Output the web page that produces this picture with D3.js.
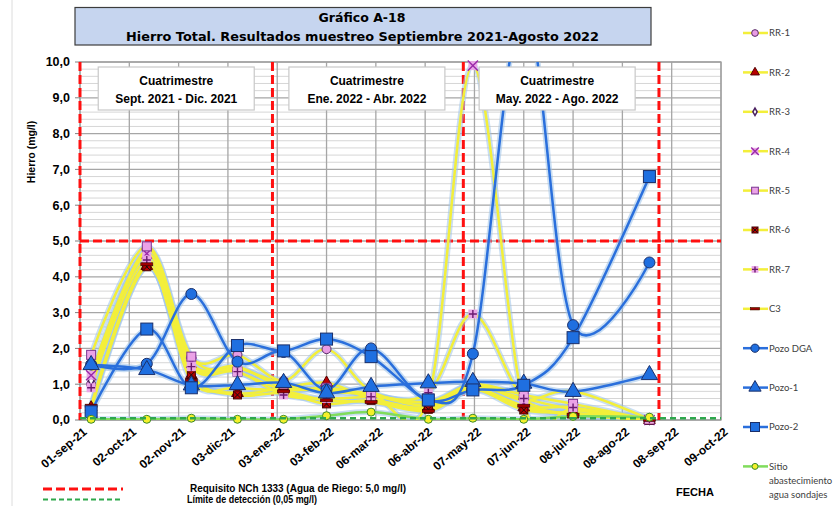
<!DOCTYPE html>
<html>
<head>
<meta charset="utf-8">
<script src="https://cdn.jsdelivr.net/npm/d3@7"></script>
<style>
  body { margin: 0; background: #fff; }
  svg { display: block; }
  text { font-family: "Liberation Sans", Arial, sans-serif; }
</style>
</head>
<body>
<svg id="chart" width="835" height="506"></svg>
<script>
// sampling dates (one campaign per month)
const sampleDates = ['2021-09-08', '2021-10-13', '2021-11-10', '2021-12-09', '2022-01-07', '2022-02-03',
  '2022-03-03', '2022-04-08', '2022-05-06', '2022-06-07', '2022-07-08', '2022-08-25'];

// hierro total (mg/l) per station
const rr1 = [1.0, 4.75, 1.75, 1.82, 1.1, 1.98, 0.8, 0.5, 0.95, 0.6, 0.3, 0.02];
const rr2 = [0.35, 4.3, 1.25, 0.75, 0.9, 1.04, 0.6, 0.35, 0.9, 0.35, 0.15, 0.0];
const rr3 = [1.1, 4.6, 1.55, 1.45, 1.0, 0.8, 0.7, 0.4, 1.0, 0.55, 0.8, 0.02];
const rr4 = [1.25, 4.65, 1.6, 1.5, 0.9, 0.85, 0.75, 0.6, 9.9, 0.45, 0.3, 0.0];
const rr5 = [1.82, 4.85, 1.77, 1.35, 0.85, 0.9, 0.7, 0.5, 1.0, 0.7, 0.45, 0.0];
const rr6 = [0.3, 4.28, 1.26, 0.7, 0.75, 0.45, 0.55, 0.3, 0.85, 0.28, 0.2, 0.0];
const rr7 = [0.9, 4.47, 1.49, 1.35, 0.7, 0.6, 0.65, 0.76, 2.96, 0.6, 0.35, 0.02];
const c3 = [0.4, 4.35, 1.1, 0.9, 0.8, 0.55, 0.5, 0.25, 0.85, 0.4, 0.15, 0.0];
const pozoDga = [1.55, 1.57, 3.52, 1.63, 1.9, 0.85, 2.0, 0.55, 1.85, 11.6, 2.65, 4.4];
const pozo1 = [1.54, 1.4, 0.97, 0.98, 1.04, 0.75, 0.93, 1.03, 1.07, 1.02, 0.79, 1.26];
const pozo2 = [0.23, 2.54, 0.9, 2.08, 1.93, 2.26, 1.77, 0.56, 0.84, 0.97, 2.3, 6.8];
const sitio = [0.02, 0.02, 0.05, 0.02, 0.02, 0.12, 0.22, 0.02, 0.05, 0.02, 0.1, 0.08];

// axis
const xTickDates = ['2021-09-01', '2021-10-02', '2021-11-02', '2021-12-03', '2022-01-03', '2022-02-03', '2022-03-06',
  '2022-04-06', '2022-05-07', '2022-06-07', '2022-07-08', '2022-08-08', '2022-09-08', '2022-10-09'];
const xTickLabels = ['01-sep-21', '02-oct-21', '02-nov-21', '03-dic-21', '03-ene-22', '03-feb-22', '06-mar-22',
  '06-abr-22', '07-may-22', '07-jun-22', '08-jul-22', '08-ago-22', '08-sep-22', '09-oct-22'];
const yTicks = [0, 1, 2, 3, 4, 5, 6, 7, 8, 9, 10];

// cuatrimestres
const periodBreaks = ['2021-09-01', '2021-12-31', '2022-04-30', '2022-08-31'];
const periodLabels = ['Sept. 2021 - Dic. 2021', 'Ene. 2022 - Abr. 2022', 'May. 2022 - Ago. 2022'];

const requisito = 5.0;
const limiteDeteccion = 0.05;

const YELLOW = '#f3ef3a';
const BLUE = '#2a6fdc';
const GREEN = '#80dc5c';

const series = [
  { name: 'RR-1', values: rr1, kind: 'rr1', color: YELLOW },
  { name: 'RR-2', values: rr2, kind: 'rr2', color: YELLOW },
  { name: 'RR-3', values: rr3, kind: 'rr3', color: YELLOW },
  { name: 'RR-4', values: rr4, kind: 'rr4', color: YELLOW },
  { name: 'RR-5', values: rr5, kind: 'rr5', color: YELLOW },
  { name: 'RR-6', values: rr6, kind: 'rr6', color: YELLOW },
  { name: 'RR-7', values: rr7, kind: 'rr7', color: YELLOW },
  { name: 'C3', values: c3, kind: 'c3', color: YELLOW },
  { name: 'Pozo DGA', values: pozoDga, kind: 'dga', color: BLUE },
  { name: 'Pozo-1', values: pozo1, kind: 'p1', color: BLUE },
  { name: 'Pozo-2', values: pozo2, kind: 'p2', color: BLUE },
  { name: ['Sitio', 'abastecimiento', 'agua sondajes'], values: sitio, kind: 'sitio', color: GREEN },
];

const plot = { left: 80, right: 721, top: 62, bottom: 420 };
const parseDate = d3.utcParse('%Y-%m-%d');
const svg = d3.select('#chart');

const x = d3.scaleUtc()
  .domain([parseDate(xTickDates[0]), parseDate(xTickDates[xTickDates.length - 1])])
  .range([plot.left, plot.right]);
const y = d3.scaleLinear().domain([0, 10]).range([plot.bottom, plot.top]);
const fmt = (v) => d3.format('.1f')(v).replace('.', ',');

svg.append('defs').append('clipPath').attr('id', 'plot-clip')
  .append('rect')
  .attr('x', plot.left).attr('y', plot.top)
  .attr('width', plot.right - plot.left).attr('height', plot.bottom - plot.top);

// faint outer frame line on the left
svg.append('line').attr('x1', 12).attr('x2', 12).attr('y1', 0).attr('y2', 506)
  .attr('stroke', '#dcdcdc');

// grid
const grid = svg.append('g');
grid.selectAll('line.minor')
  .data(y.ticks(50).filter((d) => Math.abs(d - Math.round(d)) > 0.01))
  .join('line')
  .attr('x1', plot.left).attr('x2', plot.right)
  .attr('y1', (d) => y(d)).attr('y2', (d) => y(d))
  .attr('stroke', '#d6d6d6').attr('stroke-width', 1);
grid.selectAll('line.major')
  .data(yTicks)
  .join('line')
  .attr('x1', plot.left).attr('x2', plot.right)
  .attr('y1', (d) => y(d)).attr('y2', (d) => y(d))
  .attr('stroke', '#a6a6a6').attr('stroke-width', 1.3);
grid.selectAll('line.vert')
  .data(xTickDates.map(parseDate))
  .join('line')
  .attr('x1', (d) => x(d)).attr('x2', (d) => x(d))
  .attr('y1', plot.top).attr('y2', plot.bottom)
  .attr('stroke', '#a6a6a6').attr('stroke-width', 1.3);
grid.append('rect')
  .attr('x', plot.left).attr('y', plot.top)
  .attr('width', plot.right - plot.left).attr('height', plot.bottom - plot.top)
  .attr('fill', 'none').attr('stroke', '#a0a0a0').attr('stroke-width', 1.3);

// y axis labels and ticks
const yAxis = svg.append('g');
yAxis.selectAll('line')
  .data(yTicks)
  .join('line')
  .attr('x1', plot.left - 5).attr('x2', plot.left)
  .attr('y1', (d) => y(d)).attr('y2', (d) => y(d))
  .attr('stroke', '#808080');
yAxis.selectAll('text')
  .data(yTicks)
  .join('text')
  .attr('x', 70).attr('y', (d) => y(d))
  .attr('dy', '0.35em')
  .attr('text-anchor', 'end')
  .style('font-size', '12.5px').style('font-weight', 'bold')
  .text(fmt);
svg.append('text')
  .attr('transform', 'translate(35,152) rotate(-90)')
  .attr('text-anchor', 'middle')
  .style('font-size', '10.5px').style('font-weight', 'bold')
  .text('Hierro  (mg/l)');

// x axis labels
svg.append('g').selectAll('text')
  .data(xTickDates)
  .join('text')
  .attr('transform', (d) => `translate(${x(parseDate(d)) + 5},${plot.bottom + 10}) rotate(-40)`)
  .attr('text-anchor', 'end')
  .attr('dy', '0.35em')
  .style('font-size', '12px').style('font-weight', 'bold')
  .text((d, i) => xTickLabels[i]);

// reference lines
svg.append('g').selectAll('line')
  .data(periodBreaks.map(parseDate))
  .join('line')
  .attr('x1', (d) => x(d)).attr('x2', (d) => x(d))
  .attr('y1', plot.top).attr('y2', plot.bottom)
  .attr('stroke', '#ff1010').attr('stroke-width', 3).attr('stroke-dasharray', '9,4');
svg.append('line')
  .attr('x1', plot.left).attr('x2', plot.right)
  .attr('y1', y(requisito)).attr('y2', y(requisito))
  .attr('stroke', '#ff1010').attr('stroke-width', 3).attr('stroke-dasharray', '9,4');

// markers
function drawMarker(g, kind, k) {
  const sym = (type, area) => d3.symbol(type, area * k * k)();
  const sq = (size, fill, stroke) => g.append('rect')
    .attr('x', -size * k / 2).attr('y', -size * k / 2)
    .attr('width', size * k).attr('height', size * k)
    .attr('fill', fill).attr('stroke', stroke).attr('stroke-width', 1);
  if (kind === 'rr1') {
    g.append('circle').attr('r', 4.5 * k).attr('fill', '#e89ce4').attr('stroke', '#5a2a66');
  } else if (kind === 'rr2') {
    g.append('path').attr('d', sym(d3.symbolTriangle, 60)).attr('fill', '#b80000').attr('stroke', '#500');
  } else if (kind === 'rr3') {
    g.append('path').attr('d', sym(d3.symbolDiamond, 28)).attr('fill', '#fff')
      .attr('stroke', '#4a2060').attr('stroke-width', 1.5);
  } else if (kind === 'rr4') {
    sq(9, '#eaa8e8', 'none');
    g.append('path').attr('d', sym(d3.symbolX, 70)).attr('fill', 'none')
      .attr('stroke', '#9a2aa8').attr('stroke-width', 1.4);
  } else if (kind === 'rr5') {
    sq(9, '#eba2e7', '#7a3590');
  } else if (kind === 'rr6') {
    sq(8, '#b80000', '#400');
    g.append('path').attr('d', sym(d3.symbolX, 30)).attr('fill', 'none').attr('stroke', '#111');
  } else if (kind === 'rr7') {
    sq(9, '#eaa6e6', 'none');
    g.append('path').attr('d', `M${-4 * k},0H${4 * k}M0,${-4 * k}V${4 * k}`)
      .attr('stroke', '#6a1a70').attr('stroke-width', 1.4);
  } else if (kind === 'c3') {
    g.append('rect').attr('x', -6 * k).attr('y', -1.5 * k).attr('width', 12 * k).attr('height', 3 * k)
      .attr('fill', '#a00000').attr('stroke', '#300').attr('stroke-width', 0.6);
  } else if (kind === 'dga') {
    g.append('circle').attr('r', 5.5 * k).attr('fill', '#1f6fe0').attr('stroke', '#1a2f6a');
  } else if (kind === 'p1') {
    g.append('path').attr('d', sym(d3.symbolTriangle, 115)).attr('fill', '#1f6fe0').attr('stroke', '#1a2f6a');
  } else if (kind === 'p2') {
    sq(12, '#1f6fe0', '#1a2f6a');
  } else if (kind === 'sitio') {
    g.append('circle').attr('r', 4 * k).attr('fill', '#f4f02a').attr('stroke', '#3a8a2a');
  }
}

// series
const line = d3.line()
  .x((d) => x(d.date))
  .y((d) => y(d.value))
  .curve(d3.curveCatmullRom.alpha(0));

const seriesData = series.map((s) => ({
  ...s,
  points: s.values.map((v, i) => ({ date: parseDate(sampleDates[i]), value: v })),
}));

const linesG = svg.append('g').attr('clip-path', 'url(#plot-clip)');
linesG.selectAll('path.glow')
  .data(seriesData)
  .join('path')
  .attr('d', (d) => line(d.points))
  .attr('fill', 'none')
  .attr('stroke', '#9cc2ea').attr('stroke-opacity', 0.55).attr('stroke-width', 6);

seriesData.forEach((s) => {
  linesG.append('path')
    .attr('d', line(s.points))
    .attr('fill', 'none')
    .attr('stroke', s.color).attr('stroke-width', 2.5);
  svg.append('g').selectAll('g')
    .data(s.points.filter((p) => p.value <= 10))
    .join('g')
    .attr('transform', (p) => `translate(${x(p.date)},${y(p.value)})`)
    .each(function () { drawMarker(d3.select(this), s.kind, 1); });
});

// detection limit
svg.append('line')
  .attr('x1', plot.left).attr('x2', plot.right)
  .attr('y1', y(limiteDeteccion)).attr('y2', y(limiteDeteccion))
  .attr('stroke', '#2ea84c').attr('stroke-width', 2.5).attr('stroke-dasharray', '6,4');

// cuatrimestre boxes (sit above the series lines)
const periodMid = d3.pairs(periodBreaks.map(parseDate)).map(([a, b]) => (x(a) + x(b)) / 2);
const boxShift = [0, -1, -4];
const boxes = svg.append('g').selectAll('g')
  .data(periodLabels)
  .join('g')
  .attr('transform', (d, i) => `translate(${periodMid[i] + boxShift[i]},0)`);
boxes.append('rect')
  .attr('x', -78).attr('y', 67).attr('width', 156).attr('height', 43)
  .attr('fill', '#fff').attr('stroke', '#c8c8c8').attr('stroke-width', 1.2);
boxes.append('text')
  .attr('y', 85).attr('text-anchor', 'middle')
  .style('font-size', '12px').style('font-weight', 'bold')
  .text('Cuatrimestre');
boxes.append('text')
  .attr('y', 103).attr('text-anchor', 'middle')
  .style('font-size', '12px').style('font-weight', 'bold')
  .text((d) => d);

// title
svg.append('rect')
  .attr('x', 75).attr('y', 7.5).attr('width', 576).attr('height', 37.5)
  .attr('fill', '#c6d5ef').attr('stroke', '#3c3c3c').attr('stroke-width', 1.2);
svg.append('text')
  .attr('x', 362).attr('y', 21.5).attr('text-anchor', 'middle')
  .attr('textLength', 87).attr('lengthAdjust', 'spacingAndGlyphs')
  .style('font-family', '"DejaVu Sans", Verdana, sans-serif')
  .style('font-size', '12.5px').style('font-weight', 'bold')
  .text('Gráfico A-18');
svg.append('text')
  .attr('x', 362.5).attr('y', 40.5).attr('text-anchor', 'middle')
  .attr('textLength', 473).attr('lengthAdjust', 'spacingAndGlyphs')
  .style('font-family', '"DejaVu Sans", Verdana, sans-serif')
  .style('font-size', '12.5px').style('font-weight', 'bold')
  .text('Hierro Total. Resultados muestreo Septiembre 2021-Agosto 2022');

// bottom legend
svg.append('line').attr('x1', 43).attr('x2', 123).attr('y1', 489).attr('y2', 489)
  .attr('stroke', '#ff1010').attr('stroke-width', 3).attr('stroke-dasharray', '9,4');
svg.append('line').attr('x1', 43).attr('x2', 123).attr('y1', 499.5).attr('y2', 499.5)
  .attr('stroke', '#2ea84c').attr('stroke-width', 2).attr('stroke-dasharray', '5,3');
svg.append('text')
  .attr('x', 190).attr('y', 491.5)
  .attr('textLength', 216).attr('lengthAdjust', 'spacingAndGlyphs')
  .style('font-size', '10.5px').style('font-weight', 'bold')
  .text('Requisito NCh 1333 (Agua de Riego: 5,0 mg/l)');
svg.append('text')
  .attr('x', 187).attr('y', 502.5)
  .attr('textLength', 130).attr('lengthAdjust', 'spacingAndGlyphs')
  .style('font-size', '10.5px').style('font-weight', 'bold')
  .text('Límite de detección (0,05 mg/l)');
svg.append('text')
  .attr('x', 676).attr('y', 496)
  .style('font-size', '11px').style('font-weight', 'bold')
  .text('FECHA');

// series legend
const legend = svg.append('g').selectAll('g')
  .data(seriesData)
  .join('g')
  .attr('transform', (d, i) => `translate(755,${33 + i * 39.4})`);
legend.append('line')
  .attr('x1', -12).attr('x2', 13)
  .attr('stroke', (d) => d.color).attr('stroke-width', 2.5);
legend.each(function (d) { drawMarker(d3.select(this), d.kind, 0.75); });
legend.append('text')
  .attr('x', 14)
  .style('font-family', 'Lato, "Open Sans", sans-serif')
  .style('font-size', '9.5px').style('fill', '#404040')
  .selectAll('tspan')
  .data((d) => [].concat(d.name))
  .join('tspan')
  .attr('x', 14)
  .attr('y', (t, i) => i * 14)
  .attr('dy', '0.35em')
  .text((t) => t);
</script>
</body>
</html>
